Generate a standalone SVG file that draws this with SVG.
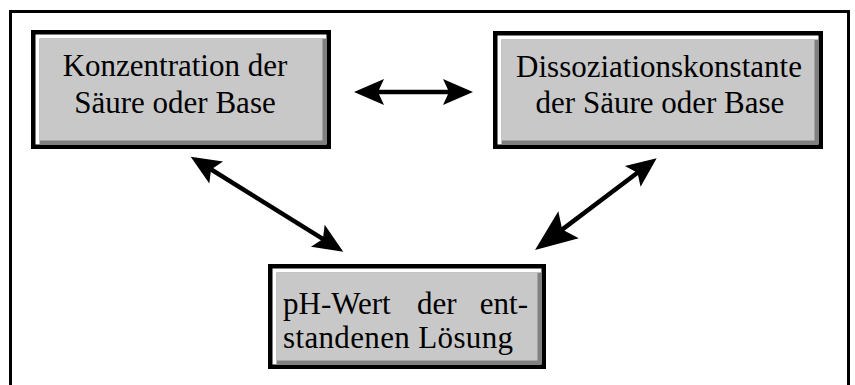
<svg xmlns="http://www.w3.org/2000/svg" width="855" height="385" viewBox="0 0 855 385">
<style>
.frame{fill:none;stroke:#000;stroke-width:3}
.blk{fill:#000}
.hl{fill:#ffffff}
.sh{fill:#808080}
.face{fill:#c8c8c8}
.t{font-family:"Liberation Serif","Times New Roman",serif;font-size:31px;fill:#000}
.c{text-anchor:middle}
.ln{fill:none;stroke:#000;stroke-width:4.5}
</style>
<defs>
<marker id="ah" markerUnits="userSpaceOnUse" viewBox="-20 -13 30 26" markerWidth="30" markerHeight="26" refX="0" refY="0" orient="auto-start-reverse" overflow="visible">
<path d="M10,0 L-20,-13 L-14,0 L-20,13 Z" fill="#000"/>
</marker>
<marker id="ahb" markerUnits="userSpaceOnUse" viewBox="-28 -17 42 34" markerWidth="42" markerHeight="34" refX="0" refY="0" orient="auto-start-reverse" overflow="visible">
<path d="M14,0 L-28,-17 L-20,0 L-28,17 Z" fill="#000"/>
</marker>
</defs>
<rect width="855" height="385" fill="#fff"/>
<path class="frame" d="M10.5,386 V11.5 H848.5 V386"/>
<g id="node-konzentration">
<rect class="blk" x="31" y="30" width="300" height="119"/>
<rect class="hl" x="35.5" y="34.5" width="291" height="110"/>
<rect class="sh" x="39.5" y="38.5" width="287" height="106"/>
<rect class="face" x="39.5" y="38.5" width="283" height="102"/>
<text class="t c" x="175" y="76">Konzentration der</text>
<text class="t c" x="175" y="113">Säure oder Base</text>
</g>
<g id="node-dissoziation">
<rect class="blk" x="493" y="31" width="330" height="118"/>
<rect class="hl" x="497.5" y="35.5" width="321" height="109"/>
<rect class="sh" x="501.5" y="39.5" width="317" height="105"/>
<rect class="face" x="501.5" y="39.5" width="313" height="101"/>
<text class="t c" x="659" y="77">Dissoziationskonstante</text>
<text class="t c" x="660" y="113">der Säure oder Base</text>
</g>
<g id="node-ph">
<rect class="blk" x="268" y="264" width="278" height="105"/>
<rect class="hl" x="272.5" y="268.5" width="269" height="96"/>
<rect class="sh" x="276.5" y="272.5" width="265" height="92"/>
<rect class="face" x="276.5" y="272.5" width="261" height="88"/>
<text class="t" y="314"><tspan x="283">pH-Wert</tspan><tspan x="417">der</tspan><tspan x="528" text-anchor="end">ent-</tspan></text>
<text class="t" x="283" y="348" textLength="230" lengthAdjust="spacing">standenen Lösung</text>
</g>
<g id="connectors">
<line class="ln" x1="364" y1="92" x2="463" y2="92" marker-start="url(#ah)" marker-end="url(#ah)"/>
<line class="ln" x1="199.2" y1="162" x2="334.8" y2="246.4" marker-start="url(#ah)" marker-end="url(#ah)"/>
<line class="ln" x1="648.7" y1="164.3" x2="546.2" y2="241.6" marker-start="url(#ah)" marker-end="url(#ahb)"/>
</g>
</svg>
